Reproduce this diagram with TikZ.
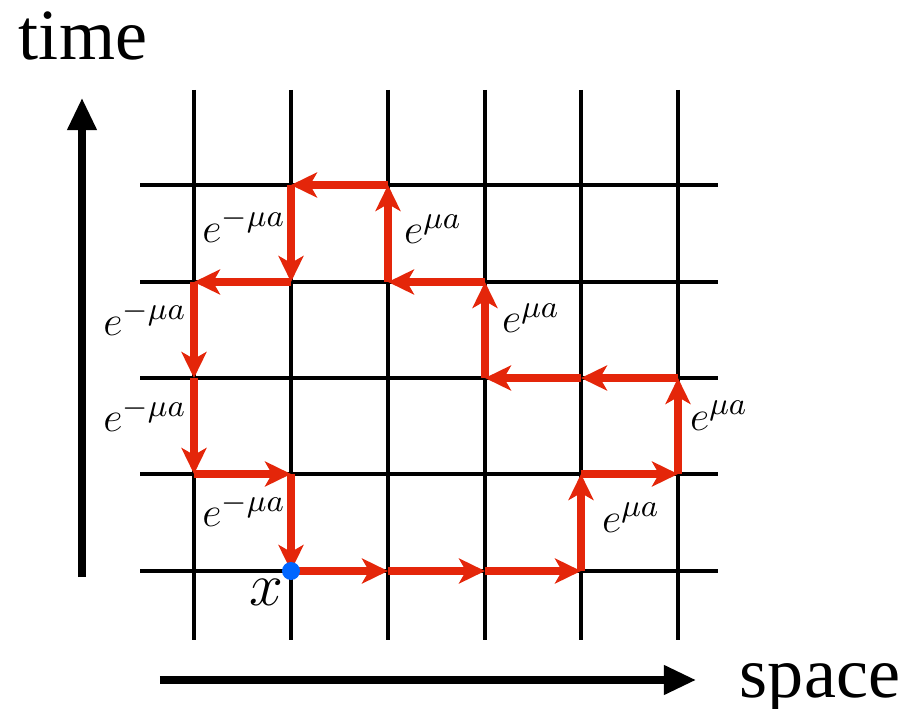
\documentclass[tikz,border=0pt]{standalone}
\usepackage{fontspec}
\setmainfont{Liberation Serif}
\usetikzlibrary{arrows.meta}
\definecolor{pathred}{RGB}{228,38,10}
\definecolor{dotblue}{RGB}{0,102,255}
\begin{document}
\begin{tikzpicture}[x=0.01cm,y=-0.01cm,
  gridline/.style={black,line width=1.25pt},
  axisarrow/.style={black,line width=2pt,-{Triangle[length=3.2mm,width=2.8mm]}},
  redstep/.style={pathred,line width=2.3pt,line cap=butt,-{Stealth[length=2.6mm,width=2.5mm,inset=0.7mm]}},
  lbl/.style={anchor=base,inner sep=0pt,font=\fontsize{13}{15}\selectfont},
  word/.style={anchor=base,inner sep=0pt,font=\fontsize{20.5}{24}\selectfont}]
\useasboundingbox (0,0) rectangle (911,709);
% grid
\foreach \x in {194,291,388,485,581,678} \draw[gridline] (\x,90) -- (\x,640);
\foreach \y in {185,282,378,474,571} \draw[gridline] (140,\y) -- (718,\y);
% vertices
\foreach \x/\i in {194/0,291/1,388/2,485/3,581/4,678/5}
  \foreach \y/\j in {571/0,474/1,378/2,282/3,185/4}
    \coordinate (v\i\j) at (\x,\y);
% red path
\foreach \a/\b in {v10/v20, v20/v30, v30/v40, v40/v41, v41/v51, v51/v52, v52/v42, v42/v32, v32/v33, v33/v23, v23/v24, v24/v14, v14/v13, v13/v03, v03/v02, v02/v01, v01/v11, v11/v10}
  \draw[redstep] (\a) -- (\b);
\fill[dotblue] (v10) circle (9);
% labels
\node[lbl] (l1) at (244,242) {$e^{-\mu a}$};
\node[lbl] (l2) at (433,244) {$e^{\mu a}$};
\node[lbl] (l3) at (145,335) {$e^{-\mu a}$};
\node[lbl] (l4) at (145,432) {$e^{-\mu a}$};
\node[lbl] (l5) at (244,527) {$e^{-\mu a}$};
\node[lbl] (l6) at (531,333) {$e^{\mu a}$};
\node[lbl] (l7) at (719,430) {$e^{\mu a}$};
\node[lbl] (l8) at (631,532) {$e^{\mu a}$};
\node[lbl,font=\fontsize{18}{20}\selectfont] (lx) at (266,606) {$x$};
% axes
\node[word] (time) at (83,60) {time};
\node[word] (space) at (820,697) {space};
\coordinate (t0) at (82,577);
\coordinate (t1) at (82,98);
\coordinate (s0) at (160,680);
\coordinate (s1) at (696,680);
\draw[axisarrow] (t0) -- (t1);
\draw[axisarrow] (s0) -- (s1);
\end{tikzpicture}
\end{document}
